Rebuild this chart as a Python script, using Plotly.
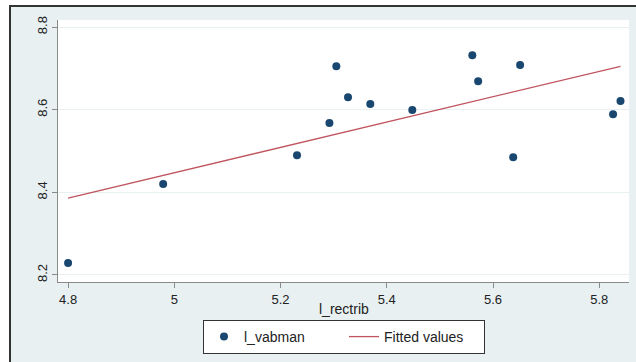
import plotly.graph_objects as go

# data
l_rectrib = [4.800, 4.979, 5.231, 5.292, 5.305, 5.327, 5.369, 5.448, 5.561, 5.572, 5.638, 5.651, 5.826, 5.840]
l_vabman = [8.229, 8.420, 8.490, 8.568, 8.705, 8.630, 8.614, 8.599, 8.732, 8.669, 8.485, 8.708, 8.589, 8.621]
fit_x = [4.800, 5.840]
fit_y = [8.386, 8.705]
x_ticks = [4.8, 5.0, 5.2, 5.4, 5.6, 5.8]
x_tick_labels = ["4.8", "5", "5.2", "5.4", "5.6", "5.8"]
y_ticks = [8.2, 8.4, 8.6, 8.8]
y_tick_labels = ["8.2", "8.4", "8.6", "8.8"]
x_title = "l_rectrib"

BG = "#e8f0f2"
NAVY = "#1a476f"
RED = "#c0545e"
FONT = "Liberation Sans, Arial, sans-serif"

fig = go.Figure()
fig.add_trace(go.Scatter(
    x=l_rectrib, y=l_vabman, mode="markers", name="l_vabman",
    marker=dict(color=NAVY, size=8, line=dict(width=0)),
))
fig.add_trace(go.Scatter(
    x=fit_x, y=fit_y, mode="lines", name="Fitted values",
    line=dict(color=RED, width=1.3),
))

W, H = 636, 362
L, R, T, B = 58, 7, 20, 80
pw, ph = W - L - R, H - T - B

def px_to_paper_x(px):
    return (px - L) / pw

def px_to_paper_y(py):
    return (H - B - py) / ph

fig.update_layout(
    width=W, height=H,
    margin=dict(l=L, r=R, t=T, b=B, pad=0, autoexpand=False),
    paper_bgcolor=BG,
    plot_bgcolor="white",
    font=dict(family=FONT, size=13, color="#222222"),
    showlegend=True,
    legend=dict(
        orientation="h", x=px_to_paper_x(344), xanchor="center",
        y=px_to_paper_y(320), yanchor="top",
        bgcolor="white", bordercolor="#333333", borderwidth=1,
        font=dict(size=14, family=FONT, color="#222222"),
        entrywidth=95, entrywidthmode="pixels",
        itemwidth=30,
    ),
    annotations=[
        dict(text=x_title, xref="paper", yref="paper",
             x=px_to_paper_x(344), y=px_to_paper_y(309),
             xanchor="center", yanchor="middle", showarrow=False,
             font=dict(size=14, family=FONT, color="#222222")),
    ],
    shapes=[
        # white strips outside the outer frame
        dict(type="rect", xref="paper", yref="paper", layer="above",
             x0=px_to_paper_x(-5), x1=px_to_paper_x(10),
             y0=px_to_paper_y(370), y1=px_to_paper_y(-5),
             fillcolor="white", line=dict(width=0)),
        dict(type="rect", xref="paper", yref="paper", layer="above",
             x0=px_to_paper_x(-5), x1=px_to_paper_x(645),
             y0=px_to_paper_y(6), y1=px_to_paper_y(-5),
             fillcolor="white", line=dict(width=0)),
        # outer frame
        dict(type="rect", xref="paper", yref="paper", layer="above",
             x0=px_to_paper_x(10), x1=px_to_paper_x(645),
             y0=px_to_paper_y(375), y1=px_to_paper_y(6),
             fillcolor="rgba(0,0,0,0)", line=dict(color="#333333", width=2)),
    ],
)

fig.update_xaxes(
    range=[4.781, 5.856],
    tickvals=x_ticks, ticktext=x_tick_labels,
    showgrid=False, zeroline=False, automargin=False,
    showline=True, linecolor="#8a8a8a", linewidth=1,
    ticks="outside", ticklen=5, tickcolor="#8a8a8a",
    tickfont=dict(size=13),
)
fig.update_yaxes(
    range=[8.183, 8.817],
    tickvals=y_ticks, ticktext=y_tick_labels,
    tickangle=-90, automargin=False,
    showgrid=True, gridcolor=BG, gridwidth=1,
    zeroline=False,
    showline=True, linecolor="#8a8a8a", linewidth=1,
    ticks="outside", ticklen=5, tickcolor="#8a8a8a",
    tickfont=dict(size=13),
)

fig.write_html(
    "out.html",
    config={"displayModeBar": False},
    post_script="document.body.style.margin='0';document.body.style.overflow='hidden';",
)
